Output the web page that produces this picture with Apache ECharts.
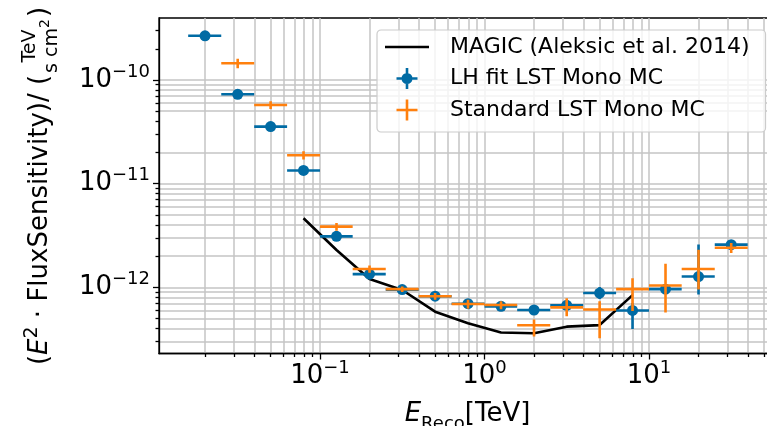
<!DOCTYPE html>
<html>
<head>
<meta charset="utf-8">
<script src="https://cdn.jsdelivr.net/npm/echarts@6/dist/echarts.min.js"></script>
<style>
  html, body { margin: 0; padding: 0; background: #fff; }
  #chart { width: 767px; height: 426px; }
</style>
</head>
<body>
<div id="chart"></div>
<script>
// Reconstructed-energy bins (TeV): centres and bin edges
const energyCenter = [0.0200, 0.0316, 0.0501, 0.0794, 0.126, 0.200, 0.316, 0.501, 0.794, 1.26, 2.00, 3.16, 5.01, 7.94, 12.6, 20.0, 31.6];
const energyLow    = [0.0158, 0.0251, 0.0398, 0.0631, 0.100, 0.158, 0.251, 0.398, 0.631, 1.00, 1.58, 2.51, 3.98, 6.31, 10.0, 15.8, 25.1];
const energyHigh   = [0.0251, 0.0398, 0.0631, 0.100, 0.158, 0.251, 0.398, 0.631, 1.00, 1.58, 2.51, 3.98, 6.31, 10.0, 15.8, 25.1, 39.8];

// LH fit LST mono MC: E^2 * flux sensitivity (TeV s^-1 cm^-2) and its errors
const lhSens    = [2.67e-10, 7.28e-11, 3.55e-11, 1.34e-11, 3.10e-12, 1.34e-12, 9.5e-13, 8.2e-13, 6.95e-13, 6.55e-13, 6.04e-13, 6.7e-13, 8.8e-13, 5.98e-13, 9.6e-13, 1.27e-12, 2.58e-12];
const lhErrLow  = [1.5e-11, 4.0e-12, 2.0e-12, 8.0e-13, 2.0e-13, 8.0e-14, 5.0e-14, 4.0e-14, 4.0e-14, 4.0e-14, 4.0e-14, 6.0e-14, 1.1e-13, 2.02e-13, 1.0e-13, 4.2e-13, 1.5e-13];
const lhErrHigh = [1.5e-11, 4.0e-12, 2.0e-12, 8.0e-13, 2.0e-13, 8.0e-14, 5.0e-14, 4.0e-14, 4.0e-14, 4.0e-14, 4.0e-14, 6.0e-14, 1.25e-13, 1.07e-13, 1.0e-13, 1.32e-12, 1.5e-13];

// Standard LST mono MC (no value in the lowest bin)
const stdSens    = [null, 1.45e-10, 5.74e-11, 1.88e-11, 3.85e-12, 1.50e-12, 9.6e-13, 8.2e-13, 6.9e-13, 6.75e-13, 4.3e-13, 6.4e-13, 6.1e-13, 9.6e-13, 1.04e-12, 1.5e-12, 2.41e-12];
const stdErrLow  = [null, 1.5e-11, 5.0e-12, 1.7e-12, 3.3e-13, 1.2e-13, 6.0e-14, 6.0e-14, 7.0e-14, 6.0e-14, 9.5e-14, 1.15e-13, 2.87e-13, 3.7e-13, 4.7e-13, 5.5e-13, 2.7e-13];
const stdErrHigh = [null, 1.5e-11, 5.0e-12, 1.7e-12, 3.3e-13, 1.2e-13, 6.0e-14, 6.0e-14, 7.0e-14, 6.0e-14, 5.8e-14, 1.45e-13, 1.22e-13, 2.6e-13, 6.5e-13, 8.0e-13, 2.7e-13];

// MAGIC reference sensitivity (Aleksic et al. 2014)
const magicEnergy = [0.0794, 0.126, 0.200, 0.316, 0.501, 0.794, 1.26, 2.00, 3.16, 5.01, 7.94];
const magicSens   = [4.64e-12, 2.29e-12, 1.20e-12, 9.42e-13, 5.82e-13, 4.50e-13, 3.66e-13, 3.60e-13, 4.17e-13, 4.32e-13, 8.41e-13];

// Axis ticks
const xMajorTicks = [0.1, 1, 10];
const xMinorTicks = [0.02, 0.03, 0.04, 0.05, 0.06, 0.07, 0.08, 0.09,
                     0.2, 0.3, 0.4, 0.5, 0.6, 0.7, 0.8, 0.9,
                     2, 3, 4, 5, 6, 7, 8, 9, 20, 30, 40, 50];
const yMajorTicks = [1e-12, 1e-11, 1e-10];
const yMinorTicks = [3e-13, 4e-13, 5e-13, 6e-13, 7e-13, 8e-13, 9e-13,
                     2e-12, 3e-12, 4e-12, 5e-12, 6e-12, 7e-12, 8e-12, 9e-12,
                     2e-11, 3e-11, 4e-11, 5e-11, 6e-11, 7e-11, 8e-11, 9e-11,
                     2e-10, 3e-10];
const yMinorGrid  = [3e-13, 4e-13, 5e-13, 6e-13, 7e-13, 8e-13, 9e-13,
                     2e-12, 3e-12, 4e-12, 5e-12, 6e-12, 7e-12, 8e-12, 9e-12,
                     2e-11, 5e-11, 6e-11, 7e-11, 8e-11, 9e-11];

const X_MIN = Math.pow(10, -1.9787), X_MAX = Math.pow(10, 1.772);
const Y_MIN = Math.pow(10, -12.6387), Y_MAX = Math.pow(10, -9.4018);

const FONT = 'DejaVu Sans';
const BLUE = '#006BA4', ORANGE = '#FF800E';
const GRID_COLOR = '#c4c4c4';

const chart = echarts.init(document.getElementById('chart'), null, { renderer: 'canvas' });

function errorRows(sens, lo, hi) {
  const rows = [];
  for (let i = 0; i < energyCenter.length; i++) {
    if (sens[i] == null) continue;
    rows.push([energyCenter[i], sens[i], energyLow[i], energyHigh[i], sens[i] - lo[i], sens[i] + hi[i]]);
  }
  return rows;
}

function errorBarRenderer(color, withMarker) {
  return function (params, api) {
    const x = api.value(0), y = api.value(1);
    const c = api.coord([x, y]);
    const xl = api.coord([api.value(2), y])[0];
    const xh = api.coord([api.value(3), y])[0];
    const yl = api.coord([x, api.value(4)])[1];
    const yh = api.coord([x, api.value(5)])[1];
    const lw = 2.6;
    const children = [
      { type: 'line', shape: { x1: xl, y1: c[1], x2: xh, y2: c[1] }, style: { stroke: color, lineWidth: lw } },
      { type: 'line', shape: { x1: c[0], y1: yl, x2: c[0], y2: yh }, style: { stroke: color, lineWidth: lw } }
    ];
    if (withMarker) {
      children.push({ type: 'circle', shape: { cx: c[0], cy: c[1], r: 5.5 }, style: { fill: color } });
    }
    return { type: 'group', children: children };
  };
}

function powLabel(v) {
  const l = Math.log10(v);
  const e = Math.round(l);
  if (Math.abs(l - e) > 1e-6) return '';
  return '{b|10}{s|' + (e < 0 ? '\u2212' + (-e) : String(e)) + '}';
}
const powRich = {
  b: { fontFamily: FONT, fontSize: 26, color: '#000', lineHeight: 26, verticalAlign: 'bottom' },
  s: { fontFamily: FONT, fontSize: 18, color: '#000', lineHeight: 18, verticalAlign: 'bottom', padding: [0, 0, 12, 0] }
};

const blackLine = { color: '#000', width: 1.3 };
const gridLine = { color: GRID_COLOR, width: 1.5 };

// Legend handles drawn as filled paths in a 44 x 22 box
const ICON_LINE = 'path://M0,0M44,22M0,9.7L44,9.7L44,12.3L0,12.3Z';
const ICON_BLUE = 'path://M0,0M44,22M11.5,9.7L32.5,9.7L32.5,12.3L11.5,12.3ZM20.7,0.5L23.3,0.5L23.3,21.5L20.7,21.5ZM27.5,11A5.5,5.5 0 1 1 16.5,11A5.5,5.5 0 1 1 27.5,11Z';
const ICON_ORANGE = 'path://M0,0M44,22M11.5,9.7L32.5,9.7L32.5,12.3L11.5,12.3ZM20.7,0.5L23.3,0.5L23.3,21.5L20.7,21.5Z';

const option = {
  animation: false,
  backgroundColor: '#fff',
  grid: {
    left: 159, top: 18, right: -9, bottom: 72.5,
    outerBoundsMode: 'none', containLabel: false,
    show: true, borderColor: '#000', borderWidth: 1.3, backgroundColor: 'transparent'
  },
  xAxis: [
    {
      type: 'log', logBase: 10, min: X_MIN, max: X_MAX, position: 'bottom',
      axisLine: { show: true, onZero: false, lineStyle: blackLine },
      axisTick: { show: true, length: 6, customValues: xMajorTicks, lineStyle: blackLine },
      axisLabel: { customValues: xMajorTicks, formatter: powLabel, rich: powRich, margin: 10 },
      splitLine: { show: true, lineStyle: gridLine },
      name: '{i|E}{sub|Reco}{n|[TeV]}', nameLocation: 'middle', nameGap: 50,
      nameTextStyle: {
        rich: {
          i: { fontFamily: FONT, fontStyle: 'italic', fontSize: 26, color: '#000', lineHeight: 30, verticalAlign: 'bottom', padding: [0, 0, 6, 0] },
          sub: { fontFamily: FONT, fontSize: 18, color: '#000', lineHeight: 20, verticalAlign: 'bottom' },
          n: { fontFamily: FONT, fontSize: 26, color: '#000', lineHeight: 30, verticalAlign: 'bottom', padding: [0, 0, 6, 0] }
        }
      }
    },
    {
      type: 'log', logBase: 10, min: X_MIN, max: X_MAX, position: 'bottom',
      axisLine: { show: false },
      axisTick: { show: true, length: 3.5, customValues: xMinorTicks, lineStyle: blackLine },
      axisLabel: { show: false },
      splitLine: { show: true, lineStyle: gridLine }
    }
  ],
  yAxis: [
    {
      type: 'log', logBase: 10, min: Y_MIN, max: Y_MAX, position: 'left',
      axisLine: { show: true, onZero: false, lineStyle: blackLine },
      axisTick: { show: true, length: 6, customValues: yMajorTicks, lineStyle: blackLine },
      axisLabel: { customValues: yMajorTicks, formatter: powLabel, rich: powRich, margin: 9 },
      splitLine: { show: true, lineStyle: gridLine }
    },
    {
      type: 'log', logBase: 10, min: Y_MIN, max: Y_MAX, position: 'left',
      axisLine: { show: false },
      axisTick: { show: true, length: 3.5, customValues: yMinorTicks, lineStyle: blackLine },
      axisLabel: { show: false },
      splitLine: { show: false }
    },
    {
      type: 'log', logBase: 10, min: Y_MIN, max: Y_MAX, position: 'left',
      axisLine: { show: false },
      axisTick: { show: false, customValues: yMinorGrid },
      axisLabel: { show: false },
      splitLine: { show: true, lineStyle: gridLine }
    }
  ],
  legend: {
    orient: 'vertical', left: 377, top: 30,
    itemWidth: 44, itemHeight: 22, itemGap: 9.5,
    padding: [6, 16, 11, 8],
    backgroundColor: 'rgba(255,255,255,0.8)', borderColor: '#cccccc', borderWidth: 1.2, borderRadius: 4,
    textStyle: { fontFamily: FONT, fontSize: 22, color: '#000', padding: [0, 0, 0, 16] },
    data: [
      { name: 'MAGIC (Aleksic et al. 2014)', icon: ICON_LINE },
      { name: 'LH fit LST Mono MC', icon: ICON_BLUE },
      { name: 'Standard LST Mono MC', icon: ICON_ORANGE }
    ]
  },
  series: [
    {
      name: 'MAGIC (Aleksic et al. 2014)', type: 'line', xAxisIndex: 0, yAxisIndex: 0,
      data: magicEnergy.map((e, i) => [e, magicSens[i]]),
      symbol: 'none', lineStyle: { color: '#000', width: 2.6 }, itemStyle: { color: '#000' }, z: 3
    },
    {
      name: 'LH fit LST Mono MC', type: 'custom', xAxisIndex: 0, yAxisIndex: 0,
      data: errorRows(lhSens, lhErrLow, lhErrHigh),
      encode: { x: 0, y: 1 },
      renderItem: errorBarRenderer(BLUE, true), itemStyle: { color: BLUE }, clip: true, z: 4
    },
    {
      name: 'Standard LST Mono MC', type: 'custom', xAxisIndex: 0, yAxisIndex: 0,
      data: errorRows(stdSens, stdErrLow, stdErrHigh),
      encode: { x: 0, y: 1 },
      renderItem: errorBarRenderer(ORANGE, false), itemStyle: { color: ORANGE }, clip: true, z: 5
    }
  ]
};

chart.setOption(option);

// Rotated y-axis title with a stacked unit fraction
(function drawYTitle() {
  const ctx = document.createElement('canvas').getContext('2d');
  const w = (s, font) => { ctx.font = font; return ctx.measureText(s).width; };
  const big = '26px "' + FONT + '"', bigIt = 'italic 26px "' + FONT + '"';
  const mid = '19px "' + FONT + '"', small = '14px "' + FONT + '"';
  // y given as baseline offset; zrender draws text vertically centred, so shift by ~0.34 em
  const pieces = [];
  let x = 0;
  function put(str, font, size, base) {
    pieces.push({ type: 'text', x: x, y: base - 0.34 * size, style: { text: str, font: font, fill: '#000', align: 'left', verticalAlign: 'middle' } });
    x += w(str, font);
  }
  put('(', big, 26, 0);
  put('E', bigIt, 26, 0);
  put('2', mid, 19, -11);
  put(' \u00b7 FluxSensitivity)/ (', big, 26, 0);
  const numW = w('TeV', mid);
  const denW = w('s cm', mid) + w('2', small);
  const fracW = Math.max(numW, denW) + 4;
  const fx = x;
  pieces.push({ type: 'text', x: fx + (fracW - numW) / 2, y: -12.6 - 0.34 * 19, style: { text: 'TeV', font: mid, fill: '#000', align: 'left', verticalAlign: 'middle' } });
  pieces.push({ type: 'rect', shape: { x: fx, y: -9.2, width: fracW, height: 1.3 }, style: { fill: '#000' } });
  const dx = fx + (fracW - denW) / 2;
  pieces.push({ type: 'text', x: dx, y: 9 - 0.34 * 19, style: { text: 's cm', font: mid, fill: '#000', align: 'left', verticalAlign: 'middle' } });
  pieces.push({ type: 'text', x: dx + w('s cm', mid), y: 1 - 0.34 * 14, style: { text: '2', font: small, fill: '#000', align: 'left', verticalAlign: 'middle' } });
  x = fx + fracW;
  put(')', big, 26, 0);
  const total = x;
  pieces.forEach(p => { p.x -= total / 2; });
  chart.setOption({
    graphic: [{ type: 'group', x: 49.3, y: 186, rotation: Math.PI / 2, children: pieces }]
  });
})();
</script>
</body>
</html>
